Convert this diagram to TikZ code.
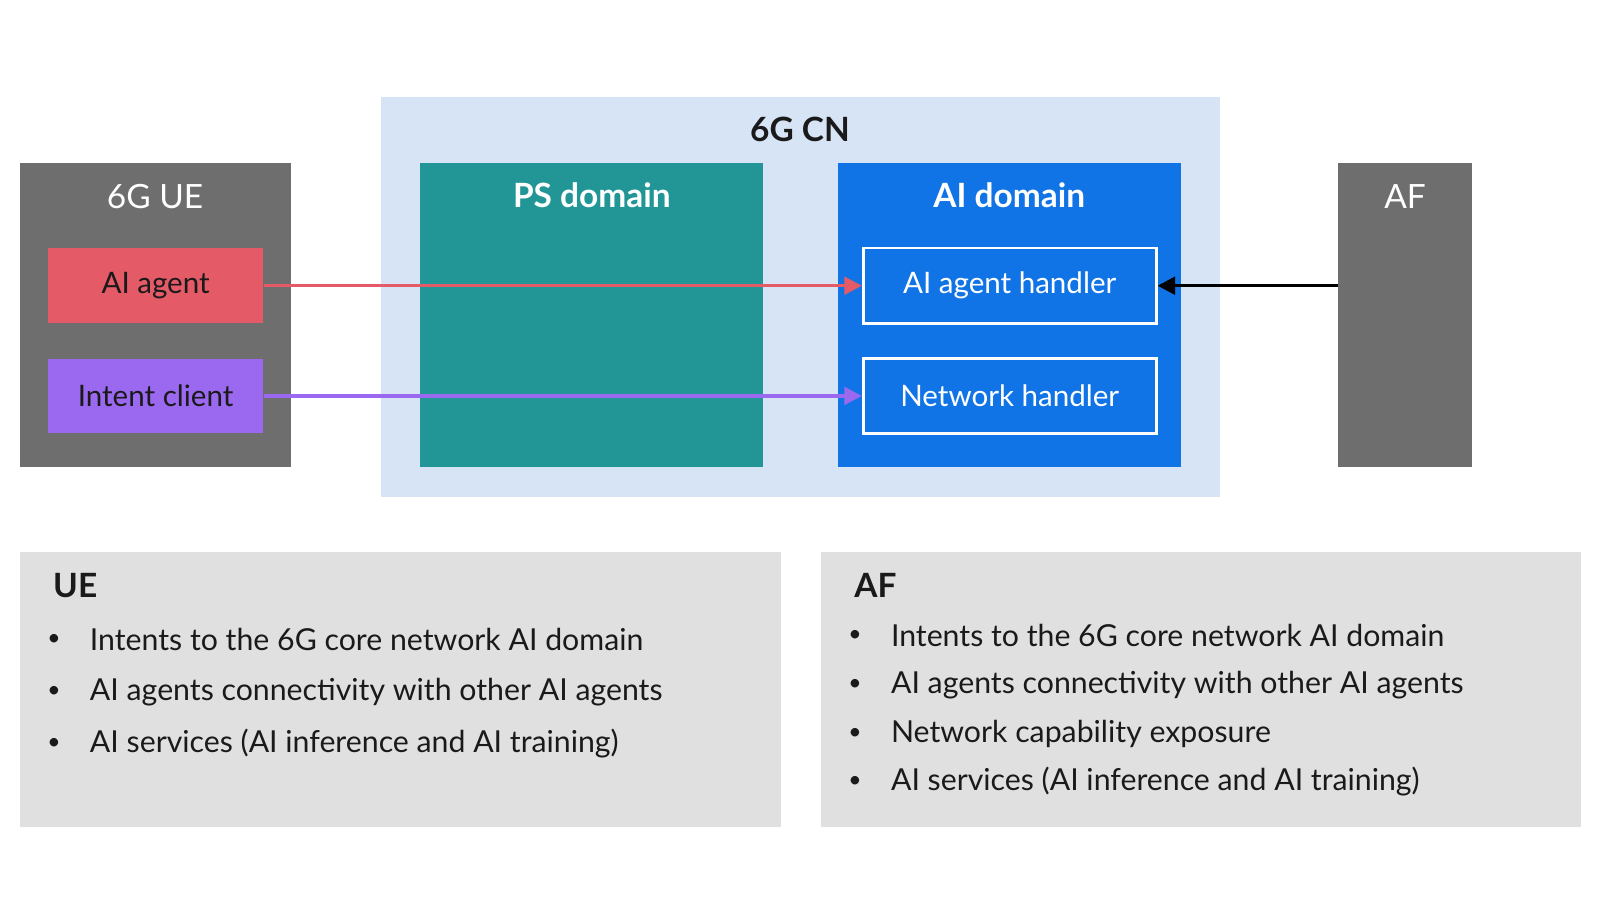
\documentclass[tikz,border=0pt]{standalone}
\usepackage{fontspec}
\setmainfont{Lato}
\usetikzlibrary{arrows.meta}
\definecolor{cnbg}{HTML}{D6E4F6}
\definecolor{gbox}{HTML}{6E6E6E}
\definecolor{agentc}{HTML}{E45B67}
\definecolor{intentc}{HTML}{9B68F0}
\definecolor{psc}{HTML}{229696}
\definecolor{aic}{HTML}{1174E6}
\definecolor{infob}{HTML}{E0E0E0}
\definecolor{txt}{HTML}{1A1A1A}
\tikzset{
 lbl/.style={font=\fontsize{8.4}{10}\selectfont, text=txt},
 title/.style={font=\fontsize{9.5}{11}\selectfont},
 btxt/.style={font=\fontsize{8.6}{11}\selectfont, text=txt, anchor=west},
 bul/.style={font=\fontsize{6.5}{8}\selectfont, text=txt},
 conn/.style={line width=1pt, -{Triangle[length=5pt,width=5pt]}}
}
\begin{document}
\begin{tikzpicture}[x=0.0102cm,y=-0.0102cm]
\useasboundingbox (0,0) rectangle (1568,882);
\fill[cnbg] (373,95) rectangle (1196,487);
\node[title,font=\bfseries\fontsize{9.5}{11}\selectfont,text=txt] (cnl) at (784,127) {6G CN};
\fill[gbox] (20,160) rectangle (285,458);
\node[title,text=white] (uel) at (152,193) {6G UE};
\node[fill=agentc,minimum width=211*0.0102cm,minimum height=73*0.0102cm,lbl] (agent) at (152.5,280) {AI agent};
\node[fill=intentc,minimum width=211*0.0102cm,minimum height=73*0.0102cm,lbl] (intent) at (152.5,388) {Intent client};
\fill[psc] (412,160) rectangle (748,458);
\node[title,font=\bfseries\fontsize{9.5}{11}\selectfont,text=white] (psl) at (580,191) {PS domain};
\fill[aic] (821,160) rectangle (1157,458);
\node[title,font=\bfseries\fontsize{9.5}{11}\selectfont,text=white] (ail) at (989,191) {AI domain};
\node[draw=white,line width=0.8pt,minimum width=287*0.0102cm,minimum height=74*0.0102cm,lbl,text=white] (ah) at (989.5,280) {AI agent handler};
\node[draw=white,line width=0.8pt,minimum width=287*0.0102cm,minimum height=74*0.0102cm,lbl,text=white] (nh) at (989.5,388) {Network handler};
\fill[gbox] (1311,160) rectangle (1443,458);
\node[title,text=white] (afl) at (1377,193) {AF};
\coordinate (afw) at (1311,280);
\draw[conn,agentc] (agent.east) -- (ah.west);
\draw[conn,intentc] (intent.east) -- (nh.west);
\draw[conn,black] (afw) -- (ah.east);
\fill[infob] (20,541) rectangle (765,810);
\fill[infob] (805,541) rectangle (1549,810);
\node[btxt,font=\bfseries\fontsize{9.5}{11}\selectfont] (ueh) at (40,574) {UE};
\node[btxt,font=\bfseries\fontsize{9.5}{11}\selectfont] (afh) at (825,574) {AF};
\foreach \y/\t [count=\i] in {627/Intents to the 6G core network AI domain,678/AI agents connectivity with other AI agents,729/AI services (AI inference and AI training)}{
 \node[bul] (ub\i) at (53,\y) {•};
 \node[btxt] (ut\i) at (76,\y) {\t};}
\foreach \y/\t [count=\i] in {623/Intents to the 6G core network AI domain,671/AI agents connectivity with other AI agents,719/Network capability exposure,766/AI services (AI inference and AI training)}{
 \node[bul] (ab\i) at (838,\y) {•};
 \node[btxt] (at\i) at (861,\y) {\t};}
\end{tikzpicture}
\end{document}
